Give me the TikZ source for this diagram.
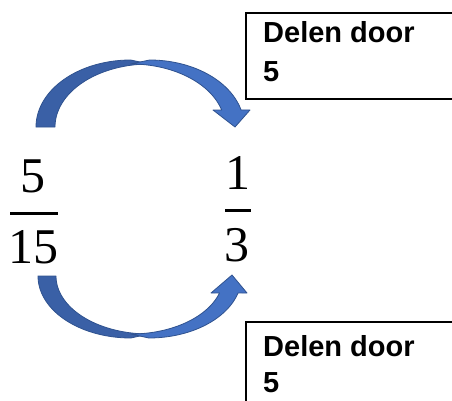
\documentclass[tikz,border=0pt]{standalone}
\usepackage{fontspec}
\setmainfont{Liberation Serif}
\newfontfamily\boxfont{Liberation Sans}
\definecolor{arrowfront}{HTML}{4472C4}
\definecolor{arrowback}{HTML}{3A60A6}
\definecolor{arrowline}{HTML}{2F528F}
\begin{document}
\begin{tikzpicture}[x=1pt,y=-1pt,
  digit/.style={inner sep=0pt, anchor=base, font=\fontsize{50}{50}\selectfont},
  labelbox/.style={draw=black, line width=1.6pt, anchor=north west, inner sep=0pt},
  labeltext/.style={inner sep=0pt, anchor=base west, font=\boxfont\bfseries\fontsize{29}{34}\selectfont},
  fracbar/.style={line width=3pt},
  front/.style={fill=arrowfront, draw=arrowline, line width=0.8pt, line join=round},
  back/.style={fill=arrowback, draw=arrowline, line width=0.8pt, line join=round}]
\useasboundingbox (0,0) rectangle (452,401);

% curved arrow above the fractions (divide numerator)
\path[back]
  plot[domain=180:90, samples=50] ({130.6+94.6*cos(\x)},{127-67*sin(\x)})
  -- plot[domain=90:180, samples=50] ({149.6+94.6*cos(\x)},{127-63*sin(\x)})
  -- cycle;
\path[front]
  plot[domain=90:14.70, samples=60] ({149.6+94.6*cos(\x)},{127-67*sin(\x)})
  -- (250,110) -- (235,127) -- (213,110)
  -- plot[domain=15.65:90, samples=60] ({130.6+94.6*cos(\x)},{127-63*sin(\x)})
  -- cycle;

% curved arrow below the fractions (divide denominator)
\path[back]
  plot[domain=180:90, samples=50] ({130.8+92.8*cos(\x)},{276+62*sin(\x)})
  -- plot[domain=90:180, samples=50] ({148.8+92.8*cos(\x)},{276+58*sin(\x)})
  -- cycle;
\path[front]
  plot[domain=90:15.91, samples=60] ({148.8+92.8*cos(\x)},{276+62*sin(\x)})
  -- (247,293) -- (232,275) -- (211,293)
  -- plot[domain=17.04:90, samples=60] ({130.8+92.8*cos(\x)},{276+58*sin(\x)})
  -- cycle;

% fractions
\node[digit] (numL) at (33,192) {5};
\node[digit] (denL) at (33.5,263) {15};
\draw[fracbar] (10,213.5) -- (58,213.5);
\node[digit] (numR) at (238,189) {1};
\node[digit] (denR) at (236.5,261) {3};
\draw[fracbar] (225,210.5) -- (251,210.5);

% labels
\node[labelbox, minimum width=240pt, minimum height=86pt] (topbox) at (245,12) {};
\node[labeltext] (topline1) at (263,43) {Delen door};
\node[labeltext] (topline2) at (263,82) {5};
\node[labelbox, minimum width=240pt, minimum height=120pt] (botbox) at (245,321) {};
\node[labeltext] (botline1) at (263,356) {Delen door};
\node[labeltext] (botline2) at (263,392) {5};
\end{tikzpicture}
\end{document}
